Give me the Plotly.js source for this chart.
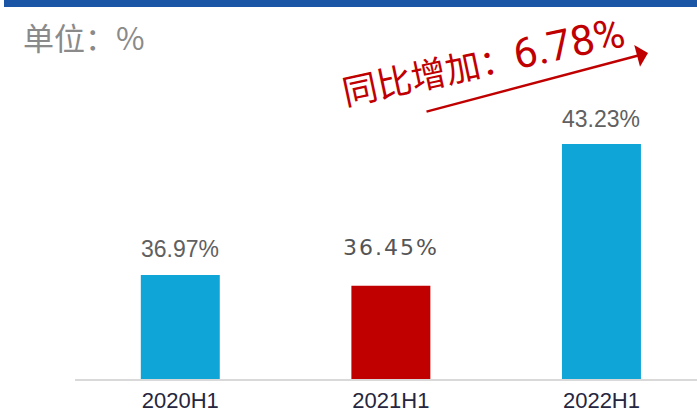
<!DOCTYPE html>
<html>
<head>
<meta charset="utf-8">
<script src="https://cdn.plot.ly/plotly-3.0.1.min.js"></script>
<style>
html,body{margin:0;padding:0;background:#fff;}
#chart{width:697px;height:415px;}
</style>
</head>
<body>
<div id="chart"></div>
<script>
// ---- data ----
const categories = ['2020H1', '2021H1', '2022H1'];
const values = [36.97, 36.45, 43.23];
const unitLabel = '单位：%';
const changeLabel = '同比增加：';
const changeValue = '6.78%';

// ---- styles ----
const barColors = ['#10a5d7', '#c00000', '#10a5d7'];
const labelFonts = [
  {family: 'Liberation Sans, Arial, sans-serif', size: 23, color: '#606060'},
  {family: 'DejaVu Sans, sans-serif', size: 22, color: '#555555'},
  {family: 'Liberation Sans, Arial, sans-serif', size: 23, color: '#606060'}
];
const labelShift = [11, 24, 10];

const W = 697, H = 415, ML = 75, MR = 0, MT = 30, MB = 36;
const PW = W - ML - MR, PH = H - MT - MB;
const px = x => (x - ML) / PW;
const py = y => (H - MB - y) / PH;

const trace = {
  type: 'bar',
  x: categories,
  y: values,
  marker: {color: barColors},
  hoverinfo: 'skip'
};

const annotations = values.map((v, i) => ({
  x: categories[i], y: v, xref: 'x', yref: 'y',
  text: i === 1 ? '<span style="letter-spacing:2px">' + v.toFixed(2) + '%</span>' : v.toFixed(2) + '%',
  showarrow: false, yanchor: 'bottom', xanchor: 'center',
  yshift: labelShift[i],
  font: labelFonts[i]
}));

annotations.push({
  xref: 'paper', yref: 'paper', x: px(21), y: py(37),
  xanchor: 'left', yanchor: 'middle', showarrow: false,
  text: unitLabel,
  font: {family: 'Noto Sans CJK SC, sans-serif', size: 31, color: '#8a8a8a'}
});

annotations.push({
  xref: 'paper', yref: 'paper', x: px(483), y: py(60),
  xanchor: 'center', yanchor: 'middle', showarrow: false,
  textangle: -12,
  text: changeLabel + '<span style="font-size:42px;font-family:Roboto">' + changeValue + '</span>',
  font: {family: 'Noto Sans CJK SC, sans-serif', size: 35, color: '#c00000'}
});

annotations.push({
  xref: 'paper', yref: 'paper', x: px(648), y: py(53),
  ax: 425 - 648, ay: 112 - 53,
  text: '', showarrow: true, arrowhead: 1, arrowsize: 1.5, arrowwidth: 2.5,
  arrowcolor: '#c00000', standoff: 0
});

const layout = {
  width: W, height: H,
  margin: {l: ML, r: MR, t: MT, b: MB, pad: 0},
  paper_bgcolor: '#ffffff', plot_bgcolor: '#ffffff',
  showlegend: false,
  bargap: 0.625,
  xaxis: {
    type: 'category',
    range: [-0.5, 2.5 - (706.75 - 697) / 210.5],
    showline: true, linecolor: '#d9d9d9', linewidth: 2,
    showgrid: false, zeroline: false, ticks: '',
    ticklabelstandoff: 1,
    tickfont: {family: 'Liberation Sans, Arial, sans-serif', size: 22, color: '#262640'},
    fixedrange: true
  },
  yaxis: {
    range: [32, 32 + PH / 20.93],
    visible: false, showgrid: false, zeroline: false,
    fixedrange: true
  },
  shapes: [{
    type: 'rect', xref: 'paper', yref: 'paper',
    x0: px(4), x1: 1, y0: py(7), y1: py(-2),
    fillcolor: '#1b56a6', line: {width: 0}, layer: 'above'
  }],
  annotations: annotations
};

Plotly.newPlot('chart', [trace], layout, {displayModeBar: false, staticPlot: true});
</script>
</body>
</html>
